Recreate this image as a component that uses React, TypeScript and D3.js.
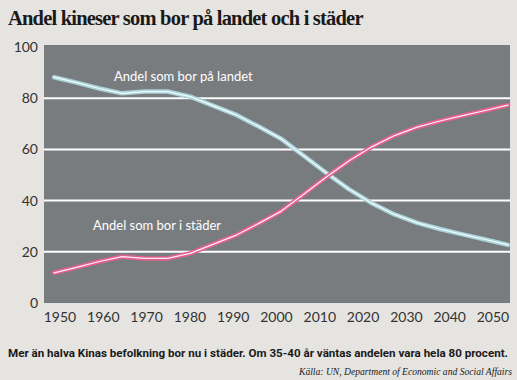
import React from "react";
import * as d3 from "d3";

const years = [1950, 1955, 1960, 1965, 1970, 1975, 1980, 1985, 1990, 1995, 2000, 2005, 2010, 2015, 2020, 2025, 2030, 2035, 2040, 2045, 2050];
const urban = [11.8, 13.9, 16.2, 18.1, 17.4, 17.4, 19.4, 22.9, 26.4, 31.0, 35.8, 42.5, 49.2, 55.6, 61.0, 65.4, 68.7, 71.1, 73.2, 75.2, 77.3];
const rural = [88.2, 86.1, 83.8, 81.9, 82.6, 82.6, 80.6, 77.1, 73.6, 69.0, 64.2, 57.5, 50.8, 44.4, 39.0, 34.6, 31.3, 28.9, 26.8, 24.8, 22.7];
const xTickYears = [1950, 1960, 1970, 1980, 1990, 2000, 2010, 2020, 2030, 2040, 2050];
const yTicks = [0, 20, 40, 60, 80, 100];

const title = "Andel kineser som bor på landet och i städer";
const ruralLabel = "Andel som bor på landet";
const urbanLabel = "Andel som bor i städer";
const caption = "Mer än halva Kinas befolkning bor nu i städer. Om 35-40 år väntas andelen vara hela 80 procent.";
const source = "Källa: UN, Department of Economic and Social Affairs";

export default function App() {
  const W = 517, H = 380;
  const plot = { left: 44, right: 510, top: 45, bottom: 303 };
  const x = d3.scaleLinear().domain([1950, 2050]).range([54, 508]);
  const xTick = d3.scaleLinear().domain([1950, 2050]).range([60, 493]);
  const y = d3.scaleLinear().domain([0, 100]).range([303, 47]);

  const line = d3.line<number>().x((_, i) => x(years[i])).y((d) => y(d));
  const ruralPath = line(rural) || "";
  const urbanPath = line(urban) || "";

  const sans = "Lato, 'Open Sans', sans-serif";

  return (
    <svg width={W} height={H} style={{ position: "absolute", left: 0, top: 0 }}>
      <rect x={0} y={0} width={W} height={H} fill="#e6e4e0" />
      <text x={8} y={25} fontFamily="'Liberation Serif', serif" fontWeight="bold" fontSize={20.5} letterSpacing={-0.8} fill="#1a1a1a">
        {title}
      </text>
      <rect x={plot.left} y={plot.top} width={plot.right - plot.left} height={plot.bottom - plot.top} fill="#797c7f" />
      {yTicks.filter((t) => t > 0 && t < 100).map((t) => (
        <line key={t} x1={plot.left} x2={plot.right} y1={y(t)} y2={y(t)} stroke="#ffffff" strokeWidth={2} />
      ))}
      {yTicks.map((t) => (
        <text key={t} x={38} y={y(t) + 5} textAnchor="end" fontFamily={sans} fontSize={14} fill="#333">
          {t}
        </text>
      ))}
      {xTickYears.map((t) => (
        <text key={t} x={xTick(t)} y={322} textAnchor="middle" fontFamily={sans} fontSize={14} fill="#333">
          {t}
        </text>
      ))}
      <path d={ruralPath} fill="none" stroke="#a9d4dc" strokeWidth={4.5} strokeLinecap="round" strokeLinejoin="round" />
      <path d={ruralPath} fill="none" stroke="#ffffff" strokeWidth={1.2} strokeLinecap="round" strokeLinejoin="round" opacity={0.9} />
      <path d={urbanPath} fill="none" stroke="#e4608d" strokeWidth={4.5} strokeLinecap="round" strokeLinejoin="round" />
      <path d={urbanPath} fill="none" stroke="#ffffff" strokeWidth={1.2} strokeLinecap="round" strokeLinejoin="round" opacity={0.9} />
      <text x={114} y={81} fontFamily={sans} fontSize={13} fill="#ffffff">{ruralLabel}</text>
      <text x={93} y={230} fontFamily={sans} fontSize={13} fill="#ffffff">{urbanLabel}</text>
      <text x={8} y={357} fontFamily="Roboto, sans-serif" fontWeight="bold" fontSize={11.6} fill="#1a1a1a">
        {caption}
      </text>
      <text x={512} y={375} textAnchor="end" fontFamily="'Liberation Serif', serif" fontStyle="italic" fontSize={9.6} fill="#222">
        {source}
      </text>
    </svg>
  );
}
